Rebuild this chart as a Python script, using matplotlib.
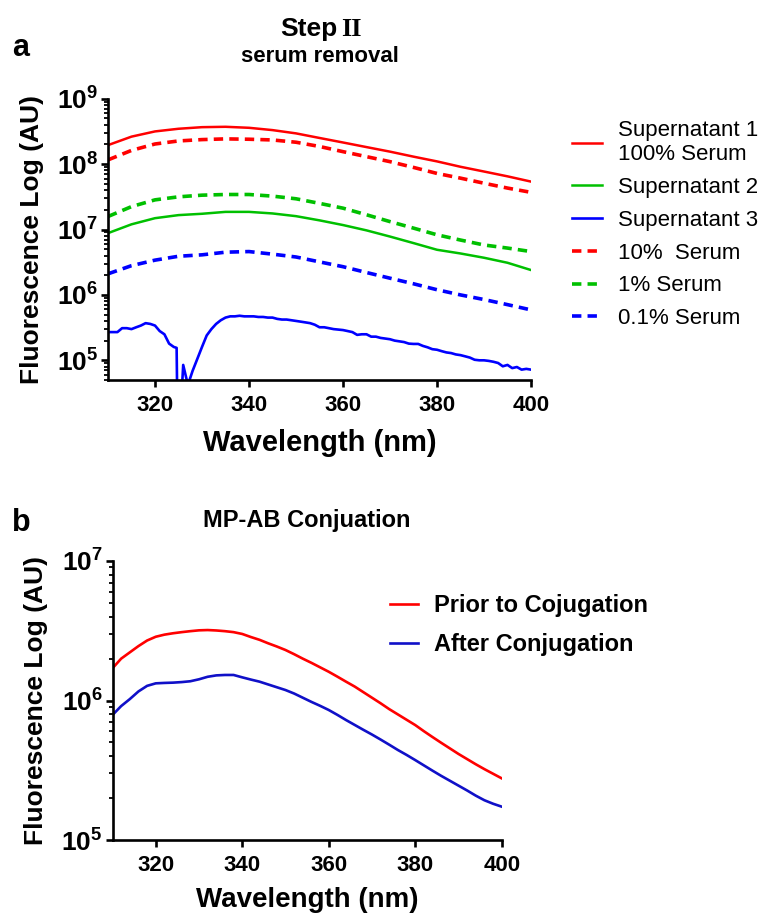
import numpy as np
import matplotlib
matplotlib.use('Agg')
import matplotlib.pyplot as plt
from matplotlib.ticker import FuncFormatter, LogLocator, NullFormatter

plt.rcParams['font.family'] = ['Liberation Sans', 'DejaVu Sans']
plt.rcParams['font.weight'] = 'bold'
plt.rcParams['axes.labelweight'] = 'bold'
plt.rcParams['mathtext.fontset'] = 'custom'
plt.rcParams['mathtext.bf'] = 'Liberation Sans:bold'
plt.rcParams['mathtext.rm'] = 'Liberation Sans:bold'

# ---- data: panel a (step II, serum removal) --------------------------------------
wl_a = [310, 315, 320, 325, 330, 335, 340, 345, 350, 355,
        360, 365, 370, 375, 380, 385, 390, 395, 400]
sup1 = [1.95e8, 2.63e8, 3.16e8, 3.47e8, 3.67e8, 3.72e8, 3.59e8, 3.31e8, 2.95e8, 2.51e8,
        2.14e8, 1.82e8, 1.55e8, 1.30e8, 1.10e8, 9.1e7, 7.7e7, 6.5e7, 5.4e7]
sup2 = [8.8e6, 1.20e7, 1.49e7, 1.66e7, 1.74e7, 1.86e7, 1.86e7, 1.76e7, 1.60e7, 1.38e7,
        1.17e7, 9.7e6, 7.8e6, 6.2e6, 4.9e6, 4.3e6, 3.7e6, 3.1e6, 2.4e6]
serum10 = [1.16e8, 1.62e8, 2.03e8, 2.26e8, 2.37e8, 2.43e8, 2.40e8, 2.34e8, 2.16e8, 1.86e8,
           1.55e8, 1.30e8, 1.09e8, 8.9e7, 7.2e7, 6.1e7, 5.1e7, 4.3e7, 3.7e7]
serum1 = [1.58e7, 2.24e7, 2.84e7, 3.16e7, 3.35e7, 3.43e7, 3.43e7, 3.24e7, 2.95e7, 2.51e7,
          2.12e7, 1.68e7, 1.32e7, 1.05e7, 8.3e6, 6.9e6, 5.8e6, 5.2e6, 4.6e6]
serum01 = [2.1e6, 2.8e6, 3.4e6, 3.9e6, 4.1e6, 4.5e6, 4.6e6, 4.2e6, 3.8e6, 3.2e6,
           2.7e6, 2.2e6, 1.8e6, 1.48e6, 1.20e6, 1.0e6, 8.5e5, 7.1e5, 5.9e5]

wl_sup3 = [310, 311, 312, 313, 314, 315, 316, 317, 318, 319, 320, 321, 322, 323, 324,
           324.6, 324.8, 325.3, 326, 327, 328, 329, 330, 331, 332, 333, 334, 335, 336,
           337, 338, 339, 340, 341, 342, 343, 344, 345, 346, 347, 348, 349, 350, 351,
           352, 353, 354, 355, 356, 357, 358, 359, 360, 361, 362, 363, 364, 365, 366,
           367, 368, 369, 370, 371, 372, 373, 374, 375, 376, 377, 378, 379, 380, 381,
           382, 383, 384, 385, 386, 387, 388, 389, 390, 391, 392, 393, 394, 395, 396,
           397, 398, 399, 400]
sup3 = [2.7e5, 2.7e5, 2.7e5, 3.1e5, 3.1e5, 3.0e5, 3.2e5, 3.4e5, 3.7e5, 3.6e5, 3.4e5,
        2.8e5, 2.5e5, 1.8e5, 1.6e5, 1.55e5, 1e4, 1e4, 8.5e4, 4.2e4, 6.9e4, 1.05e5,
        1.6e5, 2.4e5, 3.0e5, 3.6e5, 4.1e5, 4.5e5, 4.7e5, 4.7e5, 4.8e5, 4.7e5, 4.7e5,
        4.7e5, 4.6e5, 4.6e5, 4.5e5, 4.5e5, 4.3e5, 4.2e5, 4.2e5, 4.1e5, 4.0e5, 3.9e5,
        3.8e5, 3.7e5, 3.5e5, 3.2e5, 3.2e5, 3.1e5, 3.0e5, 2.95e5, 2.9e5, 2.8e5, 2.7e5,
        2.45e5, 2.5e5, 2.5e5, 2.3e5, 2.3e5, 2.2e5, 2.15e5, 2.1e5, 2.0e5, 1.95e5, 1.9e5,
        1.8e5, 1.78e5, 1.78e5, 1.66e5, 1.58e5, 1.48e5, 1.45e5, 1.38e5, 1.32e5, 1.29e5,
        1.23e5, 1.20e5, 1.15e5, 1.10e5, 1.02e5, 1.0e5, 1.0e5, 9.8e4, 9.5e4, 9.1e4,
        8.1e4, 8.5e4, 7.6e4, 7.9e4, 7.2e4, 7.4e4, 7.2e4]

# ---- data: panel b (MP-AB conjugation), log10 of fluorescence ---------------------
wl_b = list(range(310, 401, 2))
prior_log = [6.231, 6.30, 6.345, 6.39, 6.43, 6.457, 6.472, 6.482, 6.49, 6.497,
             6.503, 6.505, 6.502, 6.497, 6.49, 6.477, 6.455, 6.435, 6.41, 6.387,
             6.362, 6.332, 6.30, 6.27, 6.238, 6.206, 6.171, 6.135, 6.10, 6.06,
             6.02, 5.98, 5.938, 5.90, 5.862, 5.824, 5.78, 5.738, 5.697, 5.657,
             5.617, 5.58, 5.543, 5.508, 5.475, 5.442]
after_log = [5.896, 5.96, 6.01, 6.065, 6.105, 6.123, 6.126, 6.128, 6.132, 6.138,
             6.152, 6.17, 6.18, 6.183, 6.183, 6.166, 6.15, 6.135, 6.115, 6.095,
             6.075, 6.05, 6.02, 5.99, 5.962, 5.932, 5.897, 5.86, 5.825, 5.79,
             5.756, 5.72, 5.683, 5.645, 5.61, 5.573, 5.535, 5.497, 5.46, 5.425,
             5.39, 5.355, 5.318, 5.285, 5.26, 5.239]

RED, GREEN, BLUE, BLUE_B = '#ff0000', '#00c000', '#0000ff', '#1010c8'
W, H = 769, 914
DASH = dict(ls=(0, (2.6, 1.7)), lw=2.6, dash_capstyle='butt')


def style(a, ylo, yhi, xpad, ypad):
    a.set_yscale('log')
    a.set_xlim(310, 400); a.set_ylim(ylo, yhi)
    a.set_xticks([320, 340, 360, 380, 400])
    a.yaxis.set_major_locator(LogLocator(base=10))
    a.yaxis.set_minor_locator(LogLocator(base=10, subs=range(2, 10), numticks=20))
    a.yaxis.set_minor_formatter(NullFormatter())
    a.yaxis.set_major_formatter(FuncFormatter(
        lambda v, p: r'$\mathbf{10^{%d}}$' % round(np.log10(v))))
    for s in ('top', 'right'):
        a.spines[s].set_visible(False)
    for s in ('left', 'bottom'):
        a.spines[s].set_linewidth(1.9)
    a.tick_params(which='major', direction='out', length=5, width=1.9,
                  labelsize=16, pad=3)
    a.tick_params(axis='y', which='major', labelsize=19, pad=2)
    a.tick_params(axis='y', which='minor', direction='out', length=3, width=1.3)
    a.tick_params(axis='x', pad=6)
    a.set_ylabel('Fluorescence Log (AU)', fontsize=19, labelpad=ypad)
    return xpad


fig = plt.figure(figsize=(W/100, H/100), dpi=100)

# ---- panel a -----------------------------------------------------------------------
a = fig.add_axes([108/W, 1 - 380/H, 423/W, 281.3/H])
l1, = a.plot(wl_a, sup1, color=RED, lw=1.8, label='Supernatant 1\n100% Serum')
l2, = a.plot(wl_a, sup2, color=GREEN, lw=1.8, label='Supernatant 2')
l3, = a.plot(wl_sup3, sup3, color=BLUE, lw=1.9, label='Supernatant 3')
l4, = a.plot(wl_a, serum10, color=RED, label='10%  Serum', **DASH)
l5, = a.plot(wl_a, serum1, color=GREEN, label='1% Serum', **DASH)
l6, = a.plot(wl_a, serum01, color=BLUE, label='0.1% Serum', **DASH)
style(a, 5e4, 1e9, 9, 9.5)
a.set_xlabel('Wavelength (nm)', fontsize=21, labelpad=9)
fig.legend(handles=[l1, l2, l3, l4, l5, l6], loc='upper left',
           bbox_to_anchor=(572/W, 1 - 120/H), frameon=False, borderpad=0,
           borderaxespad=0, handlelength=1.36, handletextpad=0.7, labelspacing=0.53,
           prop=dict(family='Liberation Sans', weight='normal', size=16))

fig.text(337/W, 1 - 29/H, 'Step', ha='right', va='center', fontsize=19)
fig.text(341/W, 1 - 29/H, 'II', ha='left', va='center', fontsize=19,
         family='Liberation Serif')
fig.text(319.5/W, 1 - 57/H, 'serum removal', ha='center', va='center', fontsize=16)
fig.text(12/W, 1 - 48/H, 'a', ha='left', va='center', fontsize=22)

# ---- panel b -----------------------------------------------------------------------
b = fig.add_axes([112.5/W, 1 - 840/H, 389.2/W, 279/H])
m1, = b.plot(wl_b, np.power(10, prior_log), color=RED, lw=1.9,
             label='Prior to Cojugation')
m2, = b.plot(wl_b, np.power(10, after_log), color=BLUE_B, lw=1.9,
             label='After Conjugation')
style(b, 1e5, 1e7, 8, 10)
b.set_xlabel('Wavelength (nm)', fontsize=20, labelpad=8)
fig.legend(handles=[m1, m2], loc='upper left', bbox_to_anchor=(390/W, 1 - 594/H),
           frameon=False, borderpad=0, borderaxespad=0, handlelength=1.2,
           handletextpad=0.65, labelspacing=0.67,
           prop=dict(family='Liberation Sans', weight='bold', size=17))
fig.text(307/W, 1 - 520/H, 'MP-AB Conjuation', ha='center', va='center', fontsize=17)
fig.text(12/W, 1 - 523/H, 'b', ha='left', va='center', fontsize=22)

fig.savefig('out.png', dpi=100, facecolor='white')
